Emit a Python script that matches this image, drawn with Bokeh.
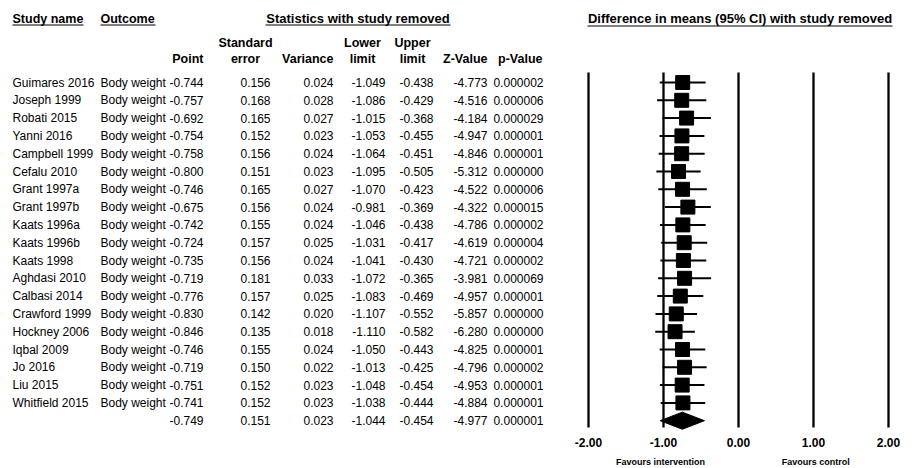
from bokeh.plotting import figure
from bokeh.models import Range1d, ColumnDataSource
from bokeh.layouts import row
from bokeh.core.properties import value
from bokeh.embed import file_html
from bokeh.resources import INLINE

# ---------------- data ----------------
studies = ["Guimares 2016", "Joseph 1999", "Robati 2015", "Yanni 2016", "Campbell 1999",
           "Cefalu 2010", "Grant 1997a", "Grant 1997b", "Kaats 1996a", "Kaats 1996b",
           "Kaats 1998", "Aghdasi 2010", "Calbasi 2014", "Crawford 1999", "Hockney 2006",
           "Iqbal 2009", "Jo 2016", "Liu 2015", "Whitfield 2015"]
outcome = "Body weight"
point = [-0.744, -0.757, -0.692, -0.754, -0.758, -0.800, -0.746, -0.675, -0.742, -0.724,
         -0.735, -0.719, -0.776, -0.830, -0.846, -0.746, -0.719, -0.751, -0.741]
std_err = [0.156, 0.168, 0.165, 0.152, 0.156, 0.151, 0.165, 0.156, 0.155, 0.157,
           0.156, 0.181, 0.157, 0.142, 0.135, 0.155, 0.150, 0.152, 0.152]
variance = [0.024, 0.028, 0.027, 0.023, 0.024, 0.023, 0.027, 0.024, 0.024, 0.025,
            0.024, 0.033, 0.025, 0.020, 0.018, 0.024, 0.022, 0.023, 0.023]
lower = [-1.049, -1.086, -1.015, -1.053, -1.064, -1.095, -1.070, -0.981, -1.046, -1.031,
         -1.041, -1.072, -1.083, -1.107, -1.110, -1.050, -1.013, -1.048, -1.038]
upper = [-0.438, -0.429, -0.368, -0.455, -0.451, -0.505, -0.423, -0.369, -0.438, -0.417,
         -0.430, -0.365, -0.469, -0.552, -0.582, -0.443, -0.425, -0.454, -0.444]
z_value = [-4.773, -4.516, -4.184, -4.947, -4.846, -5.312, -4.522, -4.322, -4.786, -4.619,
           -4.721, -3.981, -4.957, -5.857, -6.280, -4.825, -4.796, -4.953, -4.884]
p_value = ["0.000002", "0.000006", "0.000029", "0.000001", "0.000001", "0.000000",
           "0.000006", "0.000015", "0.000002", "0.000004", "0.000002", "0.000069",
           "0.000001", "0.000000", "0.000000", "0.000001", "0.000002", "0.000001",
           "0.000001"]
# overall (summary) row
sum_point, sum_se, sum_var = -0.749, 0.151, 0.023
sum_lower, sum_upper, sum_z, sum_p = -1.044, -0.454, -4.977, "0.000001"

axis_ticks = [-2.0, -1.0, 0.0, 1.0, 2.0]
axis_labels = ["-2.00", "-1.00", "0.00", "1.00", "2.00"]
left_label, right_label = "Favours intervention", "Favours control"

# ---------------- layout helpers ----------------
FONT = value("Liberation Sans")
ROW0, ROWH = 82.0, 17.8          # page y of first row, row pitch
H = 468
LEFT_W, RIGHT_W = 568, 344
X0, XS = 738.0, 75.0             # page x of 0.00 and pixels per unit


def ry(page_y):
    return (page_y - ROW0) / ROWH


n = len(studies)
rows = list(range(n))
sum_row = n
y_start, y_end = ry(H), ry(0)


def fmt(v):
    return f"{v:.3f}"


# ---------------- left: table ----------------
pl = figure(width=LEFT_W, height=H, x_range=Range1d(0, LEFT_W), y_range=Range1d(y_start, y_end),
            output_backend="svg", toolbar_location=None, min_border=0,
            x_axis_location=None, y_axis_location=None)
pl.grid.visible = False
pl.outline_line_color = None

tbl = ColumnDataSource(dict(
    y=rows + [sum_row],
    name=studies + [""],
    outc=[outcome] * n + [""],
    pt=[fmt(v) for v in point + [sum_point]],
    se=[fmt(v) for v in std_err + [sum_se]],
    var=[fmt(v) for v in variance + [sum_var]],
    lo=[fmt(v) for v in lower + [sum_lower]],
    up=[fmt(v) for v in upper + [sum_upper]],
    z=[fmt(v) for v in z_value + [sum_z]],
    p=p_value + [sum_p],
))

body = dict(text_font=FONT, text_font_size="12px", text_baseline="middle", text_color="black")
pl.text(x=12, y="y", text="name", text_align="left", source=tbl, **body)
pl.text(x=100, y="y", text="outc", text_align="left", source=tbl, **body)
for col, xr in [("pt", 203), ("se", 270), ("var", 333), ("lo", 385), ("up", 433),
                ("z", 487), ("p", 543)]:
    pl.text(x=xr, y="y", text=col, text_align="right", source=tbl, **body)

hdr = dict(text_font=FONT, text_font_size="12.5px", text_font_style="bold",
           text_baseline="middle", text_color="black")
y_t, y_h1, y_h2 = ry(18), ry(42), ry(58)
pl.text(x=[12, 100], y=[y_t, y_t], text=["Study name", "Outcome"], text_align="left", **hdr)
pl.text(x=[357.5], y=[y_t], text=["Statistics with study removed"], text_align="center",
        **dict(hdr, text_font_size="13px"))
pl.text(x=[245, 362, 412], y=[y_h1] * 3, text=["Standard", "Lower", "Upper"],
        text_align="center", **hdr)
pl.text(x=[245, 362, 412], y=[y_h2] * 3, text=["error", "limit", "limit"],
        text_align="center", **hdr)
pl.text(x=[203, 333, 487, 542], y=[y_h2] * 4, text=["Point", "Variance", "Z-Value", "p-Value"],
        text_align="right", **hdr)
y_ul = ry(24.5)
pl.segment(x0=[12, 100, 265], x1=[83, 155, 450], y0=[y_ul] * 3, y1=[y_ul] * 3,
           line_color="black", line_width=1.2)

# ---------------- right: forest plot ----------------
x_lo = (LEFT_W - X0) / XS
x_hi = (LEFT_W + RIGHT_W - X0) / XS
pr = figure(width=RIGHT_W, height=H, x_range=Range1d(x_lo, x_hi), y_range=Range1d(y_start, y_end),
            output_backend="svg", toolbar_location=None, min_border=0,
            x_axis_location=None, y_axis_location=None)
pr.grid.visible = False
pr.outline_line_color = None

top_v, bot_v = ry(72), ry(427)
pr.segment(x0=axis_ticks, x1=axis_ticks, y0=[top_v] * 5, y1=[bot_v] * 5,
           line_color="black", line_width=2.3)

fs = ColumnDataSource(dict(y=rows, pt=point, lo=lower, up=upper))
pr.segment(x0="lo", x1="up", y0="y", y1="y", source=fs, line_color="black", line_width=2)
pr.rect(x="pt", y="y", width=14, height=14, width_units="screen", height_units="screen",
        source=fs, fill_color="black", line_color="black")

dh = 0.48
pr.patch(x=[sum_lower, sum_point, sum_upper, sum_point],
         y=[sum_row, sum_row - dh, sum_row, sum_row + dh],
         fill_color="black", line_color="black")

pr.text(x=axis_ticks, y=[ry(442)] * 5, text=axis_labels, text_align="center",
        text_baseline="middle", text_font=FONT, text_font_size="12px",
        text_font_style="bold", text_color="black")
pr.text(x=[-1.04, 1.03], y=[ry(461)] * 2, text=[left_label, right_label], text_align="center",
        text_baseline="middle", text_font=FONT, text_font_size="9px",
        text_font_style="bold", text_color="black")

pr.text(x=[0.02], y=[y_t], text=["Difference in means (95% CI) with study removed"],
        text_align="center", **dict(hdr, text_font_size="13px"))
pr.segment(x0=[(587 - X0) / XS], x1=[(892 - X0) / XS], y0=[ry(25.5)], y1=[ry(25.5)],
           line_color="black", line_width=1.2)

layout = row(pl, pr)
open("out.html", "w").write(file_html(layout, INLINE))
